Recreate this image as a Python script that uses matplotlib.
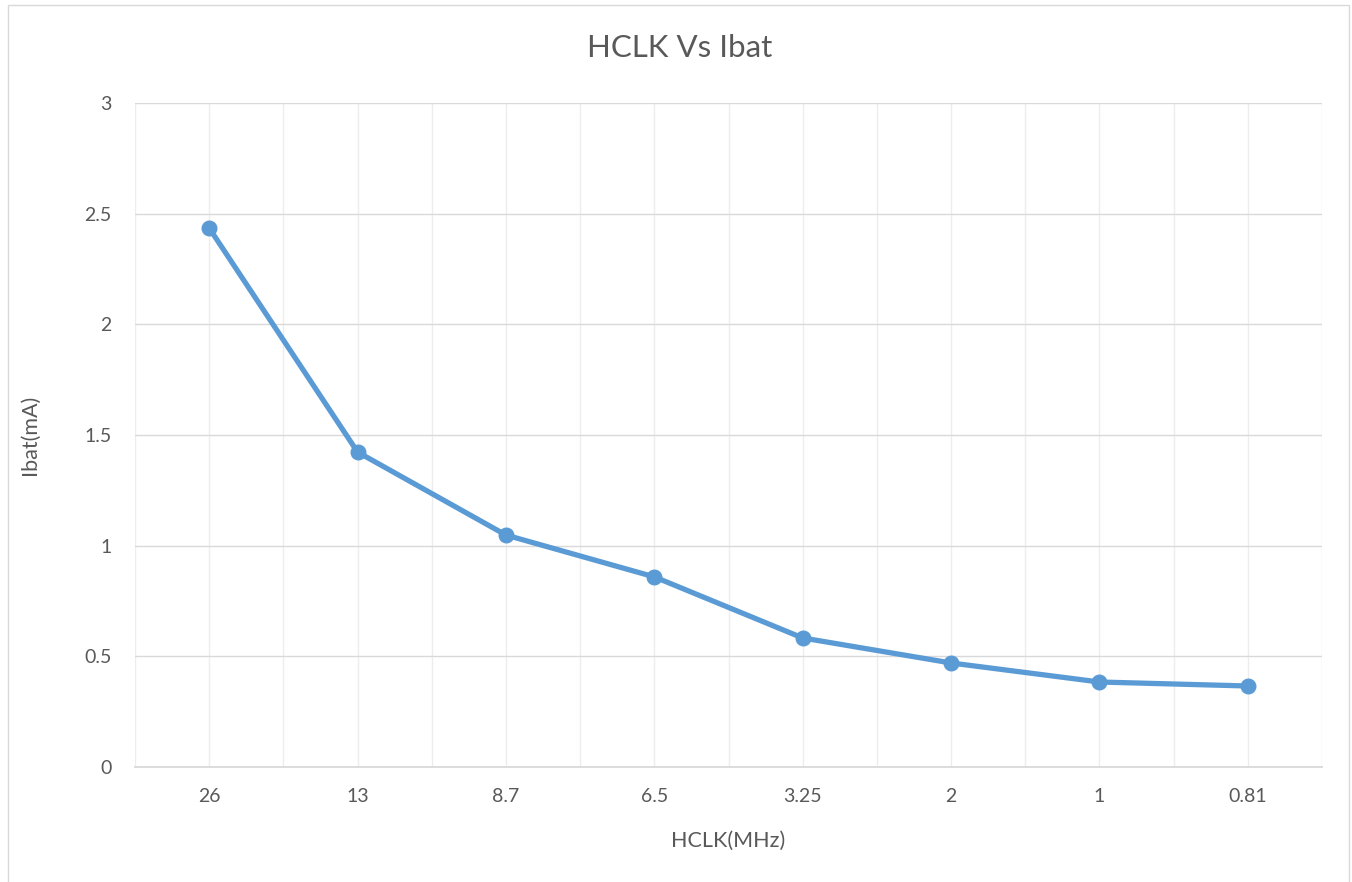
import matplotlib
matplotlib.use("Agg")
import matplotlib.pyplot as plt
from matplotlib.patches import Rectangle
import numpy as np

# data
hclk_labels = ["26", "13", "8.7", "6.5", "3.25", "2", "1", "0.81"]
ibat_ma = [2.435, 1.423, 1.048, 0.859, 0.583, 0.470, 0.384, 0.366]
y_ticks = [0, 0.5, 1, 1.5, 2, 2.5, 3]
y_tick_labels = ["0", "0.5", "1", "1.5", "2", "2.5", "3"]

W, H = 1352, 882
TEXT = "#595959"
LINE = "#5b9bd5"

plt.rcParams["font.family"] = ["Lato", "DejaVu Sans"]

fig = plt.figure(figsize=(W / 100, H / 100), dpi=100)
fig.patch.set_facecolor("white")

# chart-area border
fig.add_artist(Rectangle((8 / W, -0.02), (1349 - 8) / W, 1 - 5 / H + 0.02,
                         transform=fig.transFigure, fill=False,
                         edgecolor="#d9d9d9", linewidth=1.0))

ax = fig.add_axes([135 / W, 1 - 767 / H, (1322 - 135) / W, (767 - 103) / H])
x = np.arange(len(hclk_labels))

# gridlines: vertical at category centers and boundaries
for v in np.arange(-0.5, len(hclk_labels), 0.5):
    ax.axvline(v, color="#ededed", linewidth=1.0, zorder=0)
for t in y_ticks[1:]:
    ax.axhline(t, color="#d9d9d9", linewidth=1.0, zorder=1)

ax.plot(x, ibat_ma, color=LINE, linewidth=3.8, marker="o", markersize=10.5,
        solid_capstyle="round", zorder=3, clip_on=False)

ax.set_xlim(-0.5, len(hclk_labels) - 0.5)
ax.set_ylim(0, 3)
ax.set_xticks(x)
ax.set_xticklabels(hclk_labels)
ax.set_yticks(y_ticks)
ax.set_yticklabels(y_tick_labels)
ax.tick_params(length=0, labelsize=14, colors=TEXT)
ax.tick_params(axis="x", pad=15)
ax.tick_params(axis="y", pad=17)

for side in ["top", "right", "left"]:
    ax.spines[side].set_visible(False)
ax.spines["bottom"].set_color("#d9d9d9")
ax.spines["bottom"].set_linewidth(1.3)

ax.set_xlabel("HCLK(MHz)", fontsize=15.5, color=TEXT, labelpad=19)
ax.set_ylabel("Ibat(mA)", fontsize=15.5, color=TEXT, labelpad=32)
fig.text(680 / W, 1 - 48 / H, "HCLK Vs Ibat", ha="center", va="center",
         fontsize=22.5, color=TEXT)

fig.savefig("out.png", dpi=100)
